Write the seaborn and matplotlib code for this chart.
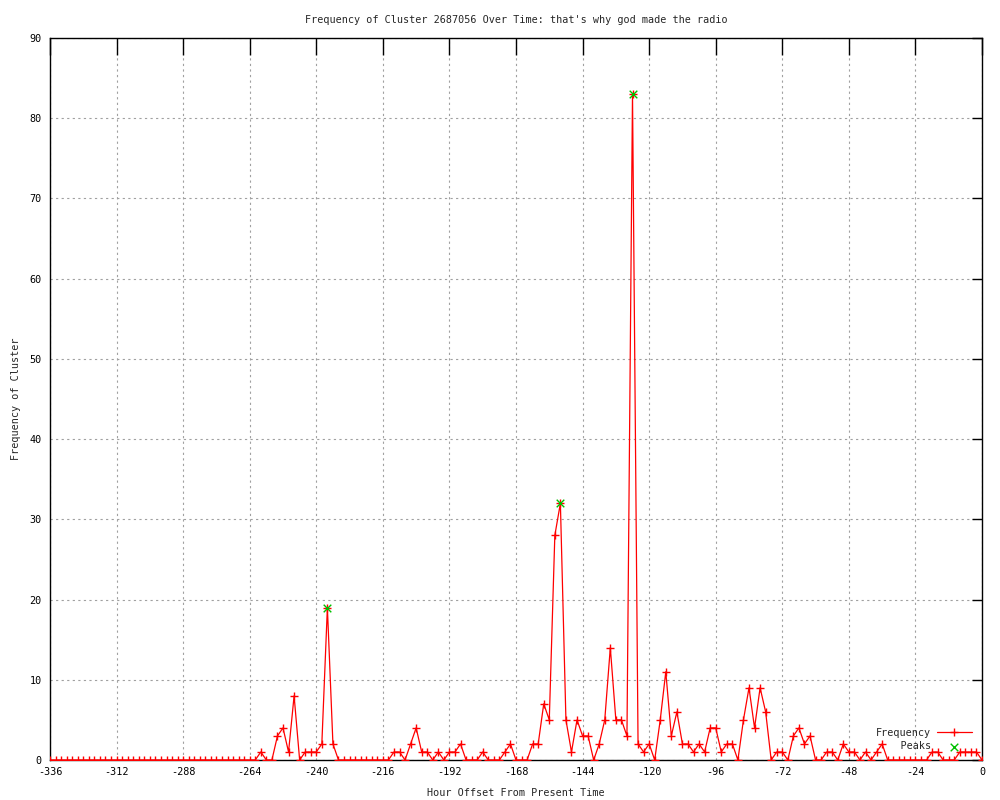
import matplotlib
matplotlib.use("Agg")
import matplotlib.pyplot as plt
import seaborn as sns
import numpy as np
import pandas as pd

# ---- data ----
hours = list(range(-336, 1, 2))
frequency = (
    [0] * 38 +                                  # -336 .. -262
    [1, 0, 0, 3, 4, 1, 8, 0, 1, 1, 1, 2, 19, 2] +  # -260 .. -234
    [0] * 10 +                                  # -232 .. -214
    [1, 1, 0, 2, 4, 1, 1, 0, 1, 0, 1, 1, 2, 0, 0, 0, 1, 0, 0, 0, 1, 2,  # -212 .. -170
     0, 0, 0, 2, 2, 7, 5, 28, 32, 5, 1, 5, 3, 3, 0, 2, 5, 14, 5, 5, 3,  # -168 .. -128
     83, 2, 1, 2, 0, 5, 11, 3, 6, 2, 2, 1, 2, 1, 4, 4, 1, 2, 2, 0,       # -126 .. -88
     5, 9, 4, 9, 6, 0, 1, 1, 0, 3, 4, 2, 3, 0, 0, 1, 1, 0, 2, 1, 1, 0,   # -86 .. -44
     1, 0, 1, 2, 0] +                           # -42 .. -34
    [0] * 7 +                                   # -32 .. -20
    [1, 1, 0, 0, 0, 1, 1, 1, 1, 0]              # -18 .. 0
)
peak_hours = [-236, -152, -126]
x_ticks = list(range(-336, 1, 24))
y_ticks = list(range(0, 91, 10))

title = "Frequency of Cluster 2687056 Over Time: that's why god made the radio"
xlabel = "Hour Offset From Present Time"
ylabel = "Frequency of Cluster"

df = pd.DataFrame({"hour": hours, "freq": frequency})
peaks = df[df["hour"].isin(peak_hours)]

# ---- style ----
sns.set_theme(style="white")
plt.rcParams["font.family"] = ["DejaVu Sans Mono"]
plt.rcParams["axes.unicode_minus"] = False
FS = 7.3

fig = plt.figure(figsize=(10, 8), dpi=100)
ax = fig.add_axes([0.05, 0.05, 0.932, 0.9025])

sns.lineplot(data=df, x="hour", y="freq", ax=ax, color="#ff0000", lw=0.9,
             marker="+", markersize=6, markeredgewidth=1.0, markeredgecolor="#ff0000",
             label="Frequency", zorder=3)
sns.scatterplot(data=peaks, x="hour", y="freq", ax=ax, color="#00c000", marker="x",
                s=30, linewidth=1.0, label="    Peaks", zorder=4)

ax.set_xlim(-336, 0)
ax.set_ylim(0, 90)
ax.set_xticks(x_ticks)
ax.set_yticks(y_ticks)
ax.grid(True, color="#a0a0a0", linestyle=(0, (2, 3)), linewidth=0.8, zorder=0)

for s in ax.spines.values():
    s.set_color("black")
    s.set_linewidth(1.0)

ax.tick_params(axis="both", direction="in", colors="black", labelsize=FS,
               top=True, right=True, width=1.0)
ax.tick_params(axis="x", length=12, pad=5)
ax.tick_params(axis="y", length=7, pad=6)

ax.set_title(title, fontsize=FS, pad=11)
ax.set_xlabel(xlabel, fontsize=FS, labelpad=8)
ax.set_ylabel(ylabel, fontsize=FS, labelpad=6)

leg = ax.legend(loc="lower right", bbox_to_anchor=(0.992, 0.008), frameon=False,
                markerfirst=False, fontsize=FS, handlelength=3.4,
                handletextpad=0.6, labelspacing=0.35, borderpad=0.3,
                borderaxespad=0.0)

fig.savefig("out.png", dpi=100)
